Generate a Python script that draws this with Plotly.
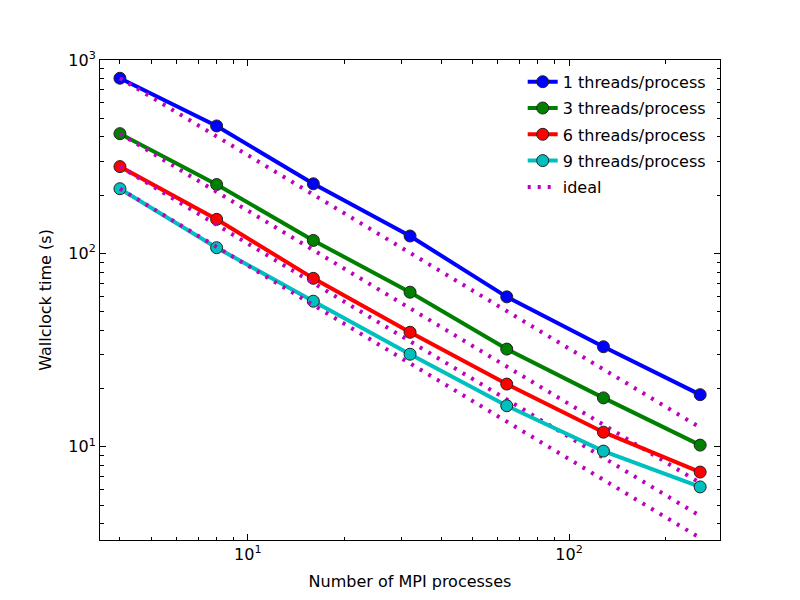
import plotly.graph_objects as go

procs = [4, 8, 16, 32, 64, 128, 256]
t1 = [805, 456, 229, 123, 59.6, 32.9, 18.6]
t3 = [416, 227, 116.7, 63, 32, 17.9, 10.2]
t6 = [281, 150, 74.3, 39.1, 21.1, 11.9, 7.4]
t9 = [216, 107, 56.6, 30.1, 16.3, 9.5, 6.2]
names = ["1 threads/process", "3 threads/process", "6 threads/process", "9 threads/process"]
colors = ["#0000ff", "#008000", "#ff0000", "#00bfbf"]
series = [t1, t3, t6, t9]

fig = go.Figure()
for i, (s, n, c) in enumerate(zip(series, names, colors)):
    fig.add_trace(go.Scatter(
        x=procs, y=s, name=n, mode="lines+markers",
        line=dict(color=c, width=4),
        marker=dict(size=12, color=c, line=dict(color="#222222", width=1)),
        legendrank=i + 1, legendgroup="g%d" % i,
    ))
    ideal = [s[0] * procs[0] / p for p in procs]
    fig.add_trace(go.Scatter(
        x=procs, y=ideal, name="ideal", mode="lines",
        line=dict(color="#bf00bf", width=4, dash="3px,7px"),
        showlegend=(i == 0), legendrank=10, legendgroup="ideal",
    ))

def minor_vals(lo, hi):
    v = []
    for d in range(lo, hi):
        for k in range(2, 10):
            v.append(k * 10 ** d)
    return v

axis_common = dict(
    type="log", showgrid=False, zeroline=False,
    showline=True, linecolor="black", linewidth=1, mirror="allticks",
    ticks="inside", ticklen=6, tickcolor="black",
    tickfont=dict(family="DejaVu Sans", size=16, color="black"),
)
fig.update_xaxes(
    **axis_common,
    range=[0.540, 2.470],
    tickvals=[10, 100], ticktext=["10<sup>1</sup>", "10<sup>2</sup>"],
    minor=dict(ticks="inside", ticklen=3.5, tickcolor="black", tickvals=minor_vals(0, 3), showgrid=False),
    title=dict(text="Number of MPI processes", font=dict(family="DejaVu Sans", size=16, color="black"), standoff=12),
)
fig.update_yaxes(
    **axis_common,
    range=[0.518, 3.0],
    tickvals=[10, 100, 1000], ticktext=["10<sup>1</sup>", "10<sup>2</sup>", "10<sup>3</sup>"],
    minor=dict(ticks="inside", ticklen=3.5, tickcolor="black", tickvals=minor_vals(0, 3), showgrid=False),
    title=dict(text="Wallclock time (s)", font=dict(family="DejaVu Sans", size=16, color="black"), standoff=12),
)
fig.update_layout(
    width=800, height=600,
    margin=dict(l=100, r=80, t=60, b=60),
    plot_bgcolor="white", paper_bgcolor="white",
    font=dict(family="DejaVu Sans", size=16, color="black"),
    legend=dict(x=0.985, y=0.99, xanchor="right", yanchor="top", tracegroupgap=2.5,
                bgcolor="rgba(0,0,0,0)", font=dict(size=16)),
)
fig.write_html("out.html")
